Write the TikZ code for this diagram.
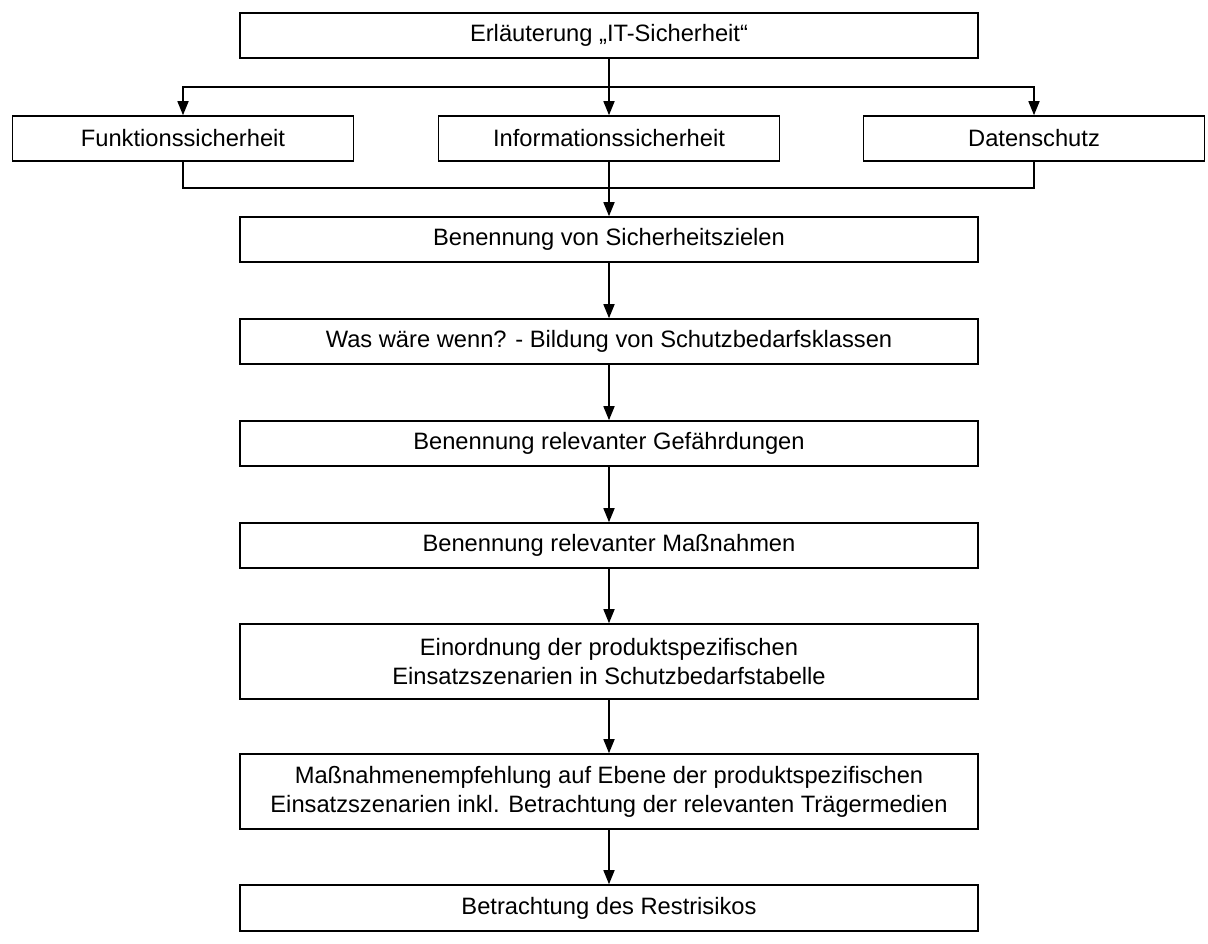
\documentclass[tikz,border=0pt]{standalone}
\usepackage{fontspec}
\setmainfont{Liberation Sans}
\usetikzlibrary{arrows.meta}
\begin{document}
\begin{tikzpicture}[x=1pt,y=-1pt,
  box/.style={draw=black, line width=1.6pt, fill=white, inner sep=0pt,
    minimum height=45pt, align=center,
    font=\fontsize{23.7}{29}\selectfont},
  wide/.style={box, minimum width=738pt},
  narrow/.style={box, minimum width=341pt},
  arr/.style={line width=1.6pt, -{Triangle[width=11pt,length=14pt]}},
  link/.style={line width=1.6pt}]
\useasboundingbox (0,0) rectangle (1208,943);

\node[wide] (top) at (609,35.5) {Erläuterung „IT-Sicherheit“};
\node[narrow] (funk) at (183,138.5) {Funktionssicherheit};
\node[narrow] (info) at (609,138.5) {Informationssicherheit};
\node[narrow] (daten) at (1034,138.5) {Datenschutz};
\node[wide] (ziele) at (609,239.5) {Benennung von Sicherheitszielen};
\node[wide] (klassen) at (609,341.5) {Was wäre wenn? - Bildung von Schutzbedarfsklassen};
\node[wide] (gef) at (609,443.5) {Benennung relevanter Gefährdungen};
\node[wide] (mass) at (609,545.5) {Benennung relevanter Maßnahmen};
\node[wide, minimum height=75pt] (einord) at (609,661.5)
  {Einordnung der produktspezifischen\\Einsatzszenarien in Schutzbedarfstabelle};
\node[wide, minimum height=75pt] (empf) at (609,791.5)
  {Maßnahmenempfehlung auf Ebene der produktspezifischen\\Einsatzszenarien inkl. Betrachtung der relevanten Trägermedien};
\node[wide, minimum height=46pt] (rest) at (609,908) {Betrachtung des Restrisikos};

% fan-out from the top box
\coordinate (split) at (609,87);
\draw[arr] (top.south) -- (info.north);
\draw[arr] (split) -| (funk.north);
\draw[arr] (split) -| (daten.north);

% merge into the goals box
\coordinate (merge) at (609,188);
\draw[link] (funk.south) |- (merge) -| (daten.south);
\draw[arr] (info.south) -- (ziele.north);

% main chain
\draw[arr] (ziele) -- (klassen);
\draw[arr] (klassen) -- (gef);
\draw[arr] (gef) -- (mass);
\draw[arr] (mass) -- (einord);
\draw[arr] (einord) -- (empf);
\draw[arr] (empf) -- (rest);
\end{tikzpicture}
\end{document}
